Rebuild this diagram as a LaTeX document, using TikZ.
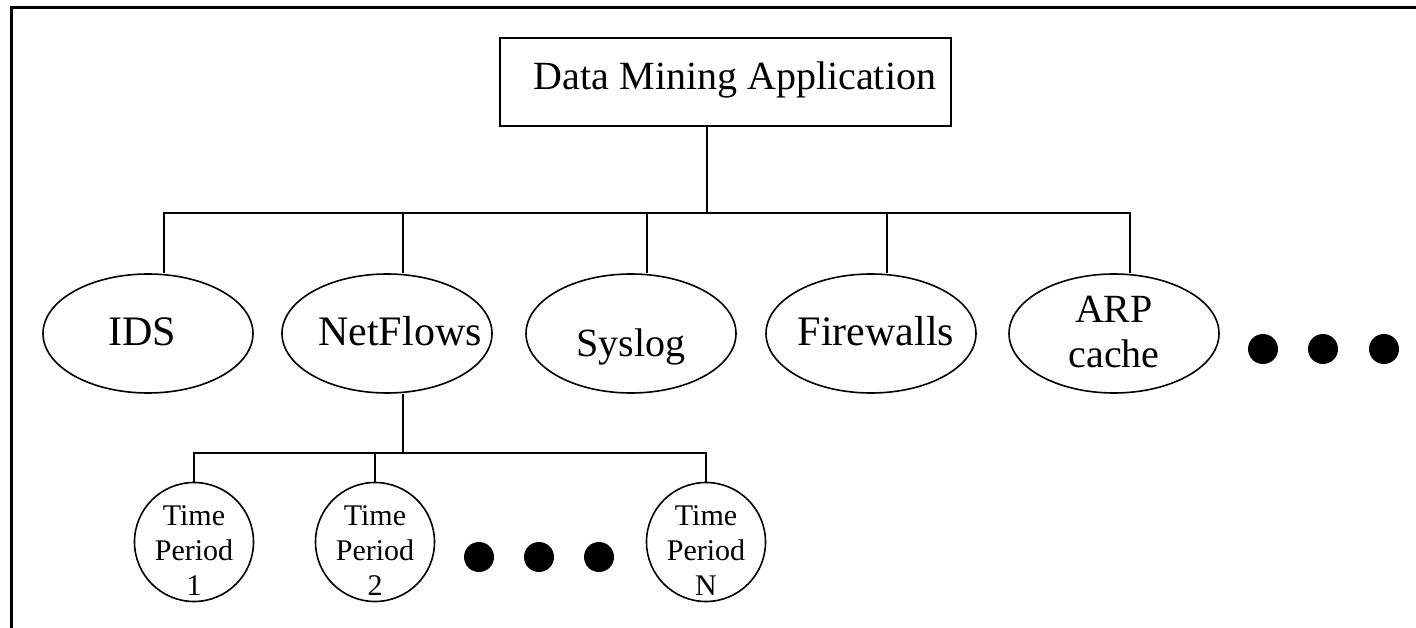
\documentclass[tikz,border=0pt]{standalone}
\usepackage{fontspec}
\setmainfont{Liberation Serif}
\usetikzlibrary{shapes.geometric,calc}
\newcommand{\ctext}[1]{\makebox[0pt]{#1}}
\tikzset{
  conn/.style={line width=2pt},
  src/.style={draw, ellipse, line width=1.6pt, minimum width=210pt, minimum height=119pt,
    inner sep=0pt, font=\fontsize{42pt}{46pt}\selectfont, text height=23pt, text depth=0pt},
  tp/.style={draw, circle, line width=1.6pt, minimum size=119pt, inner sep=0pt,
    font=\fontsize{30pt}{35pt}\selectfont, text height=0pt, text depth=34pt},
  dot/.style={circle, fill=black, minimum size=30pt, inner sep=0pt},
}
\begin{document}
\begin{tikzpicture}[x=1pt,y=-1pt]
\useasboundingbox (0,0) rectangle (1416,628);
% frame
\draw[line width=3pt] (11.5,628) -- (11.5,7.5) -- (1416,7.5);
% root
\node[draw, line width=2pt, minimum width=451pt, minimum height=88pt, inner sep=0pt,
  font=\fontsize{40pt}{44pt}\selectfont, text height=16pt, text depth=0pt]
  (root) at (725.5,82) {\hspace*{19pt}Data Mining Application};
% sources
\node[src] (ids) at (148,333.5) {\ctext{IDS\hspace*{12pt}}};
\node[src] (nf) at (387,333.5) {\ctext{\hspace*{26pt}NetFlows}};
\node[src, font=\fontsize{40pt}{44pt}\selectfont, text height=45pt] (sys) at (631,333.5) {\ctext{Syslog}};
\node[src] (fw) at (871,333.5) {\ctext{\hspace*{10pt}Firewalls}};
\node[src, font=\fontsize{40pt}{44pt}\selectfont, text height=0pt, text depth=21pt]
  (arp) at (1114,333.5) {\begin{tabular}[t]{@{}c@{}}ARP\\cache\end{tabular}};
\node[dot] (d1) at (1263,349) {};
\node[dot] (d2) at (1323,349) {};
\node[dot] (d3) at (1384,349) {};
% time periods
\node[tp] (tp1) at (194,542) {\begin{tabular}[t]{@{}c@{}}Time\\Period\\1\end{tabular}};
\node[tp] (tp2) at (375,542) {\begin{tabular}[t]{@{}c@{}}Time\\Period\\2\end{tabular}};
\node[tp] (tpn) at (706,542) {\begin{tabular}[t]{@{}c@{}}Time\\Period\\N\end{tabular}};
\node[dot] (e1) at (479,557) {};
\node[dot] (e2) at (539,557) {};
\node[dot] (e3) at (599,557) {};
% connectors
\coordinate (hub) at (707,213);
\draw[conn] ($(root.south)+(-18.5,0)$) -- (hub);
\foreach \c in {ids,nf,sys,fw,arp}
  \draw[conn] (hub) -| ($(\c.north)+(16,0)$);
\coordinate (subhub) at (403,453);
\draw[conn] ($(nf.south)+(16,0)$) -- (subhub);
\foreach \c in {tp1,tp2,tpn}
  \draw[conn] (subhub) -| (\c.north);
\end{tikzpicture}
\end{document}
